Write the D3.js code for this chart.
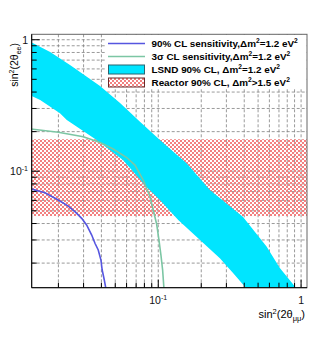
<!DOCTYPE html>
<html>
<head>
  <meta charset="utf-8">
  <script src="https://d3js.org/d3.v7.min.js"></script>
  <style>
    body { margin: 0; background: #fff; }
    text { font-family: "Liberation Sans", Arial, sans-serif; }
  </style>
</head>
<body>
<script>
// values: [sin2(2theta_mumu), sin2(2theta_ee)]
var lsndUpper = [[0.013, 0.952], [0.0175, 0.806], [0.0241, 0.642], [0.0391, 0.444], [0.054, 0.330],
  [0.0745, 0.238], [0.1027, 0.1727], [0.158, 0.1148], [0.230, 0.0719], [0.391, 0.0451],
  [0.573, 0.0267], [0.710, 0.01835], [0.930, 0.0128]];
var lsndLower = [[0.013, 0.373], [0.0149, 0.348], [0.0205, 0.2757], [0.0229, 0.245], [0.037, 0.1727],
  [0.0566, 0.1217], [0.0829, 0.0758], [0.1027, 0.0604], [0.138, 0.0425], [0.196, 0.030],
  [0.270, 0.02175], [0.335, 0.01673], [0.415, 0.0128]];
var sens90 = [[0.0128, 0.0735], [0.0161, 0.0686], [0.01996, 0.0604], [0.02345, 0.0543], [0.0261, 0.0492],
  [0.0291, 0.0438], [0.0315, 0.039], [0.0342, 0.0327], [0.03605, 0.0283], [0.038, 0.02516],
  [0.0397, 0.0211], [0.0405, 0.01772], [0.0419, 0.01487], [0.043, 0.0128]];
var sens3s = [[0.0128, 0.2095], [0.01996, 0.1976], [0.02986, 0.183], [0.0391, 0.1653], [0.0484, 0.1474],
  [0.0601, 0.1271], [0.0687, 0.1114], [0.0785, 0.0857], [0.0875, 0.064], [0.0922, 0.0507],
  [0.0974, 0.0397], [0.1011, 0.030], [0.1044, 0.02305], [0.1073, 0.01772], [0.1096, 0.0128]];
var reactorBand = [0.0456, 0.175];
var legendLabels = ["90% CL sensitivity,", "3\u03c3 CL sensitivity,", "LSND 90% CL, ", "Reactor 90% CL, "];
var legendDm = ["=1.2 eV", "=1.2 eV", "=1.2 eV", ">1.5 eV"];

var W = 315, H = 339;
var x = d3.scaleLog().domain([0.013, 1.1]).range([31.7, 307]);
var y = d3.scaleLog().domain([0.013, 1.1]).range([287.7, 34.3]);

var svg = d3.select("body").append("svg").attr("width", W).attr("height", H);
var defs = svg.append("defs");
defs.append("clipPath").attr("id", "clip").append("rect")
  .attr("x", 31.7).attr("y", 34.3).attr("width", 307 - 31.7).attr("height", 287.7 - 34.3);
var pat = defs.append("pattern").attr("id", "hatch").attr("patternUnits", "userSpaceOnUse")
  .attr("width", 4).attr("height", 4);
pat.append("rect").attr("x", 0).attr("y", 0).attr("width", 2).attr("height", 2).attr("fill", "#f38080");
pat.append("rect").attr("x", 2).attr("y", 2).attr("width", 2).attr("height", 2).attr("fill", "#f38080");

// grid at every log tick
var ticks = [];
[0.01, 0.1, 1].forEach(function(d) { for (var k = 1; k < 10; k++) ticks.push(d * k); });
var xt = ticks.filter(function(t) { return t >= 0.013 && t <= 1.1; });
var yt = xt;

var grid = svg.append("g").attr("stroke", "#808080").attr("stroke-dasharray", "3,2").attr("stroke-width", 0.8);
grid.selectAll(".gx").data(xt).enter().append("line")
  .attr("x1", function(d) { return x(d); }).attr("x2", function(d) { return x(d); })
  .attr("y1", 34.3).attr("y2", 287.7);
grid.selectAll(".gy").data(yt).enter().append("line")
  .attr("y1", function(d) { return y(d); }).attr("y2", function(d) { return y(d); })
  .attr("x1", 31.7).attr("x2", 307);

var plot = svg.append("g").attr("clip-path", "url(#clip)");

// reactor band
plot.append("rect")
  .attr("x", x(0.013)).attr("width", x(1.1) - x(0.013))
  .attr("y", y(reactorBand[1])).attr("height", y(reactorBand[0]) - y(reactorBand[1]))
  .attr("fill", "url(#hatch)");

// LSND band
var band = lsndUpper.concat(lsndLower.slice().reverse());
plot.append("path")
  .attr("d", d3.line().x(function(d) { return x(d[0]); }).y(function(d) { return y(d[1]); })(band) + "Z")
  .attr("fill", "#00e5ff");

var line = d3.line().x(function(d) { return x(d[0]); }).y(function(d) { return y(d[1]); });
plot.append("path").attr("d", line(sens3s)).attr("fill", "none").attr("stroke", "#7cc6a4").attr("stroke-width", 1.6);
plot.append("path").attr("d", line(sens90)).attr("fill", "none").attr("stroke", "#5656e0").attr("stroke-width", 1.6);

// frame + axes
svg.append("rect").attr("x", 31.7).attr("y", 34.3).attr("width", 307 - 31.7).attr("height", 287.7 - 34.3)
  .attr("fill", "none").attr("stroke", "#666");
svg.append("line").attr("x1", 31.7).attr("x2", 31.7).attr("y1", 34.3).attr("y2", 287.7).attr("stroke", "#000");
svg.append("line").attr("x1", 31.7).attr("x2", 307).attr("y1", 287.7).attr("y2", 287.7).attr("stroke", "#000");
function isMajor(t) { return Math.abs(Math.log10(t) - Math.round(Math.log10(t))) < 1e-6; }
svg.selectAll(".tx").data(xt).enter().append("line")
  .attr("x1", function(d) { return x(d); }).attr("x2", function(d) { return x(d); })
  .attr("y1", 287.7).attr("y2", function(d) { return 287.7 - (isMajor(d) ? 8 : 5); })
  .attr("stroke", "#000");
svg.selectAll(".ty").data(yt).enter().append("line")
  .attr("y1", function(d) { return y(d); }).attr("y2", function(d) { return y(d); })
  .attr("x1", 31.7).attr("x2", function(d) { return 31.7 + (isMajor(d) ? 8 : 5); })
  .attr("stroke", "#000");

// tick labels
function powLabel(g, t) {
  if (t === 1) { g.text("1"); return; }
  g.text("10");
  g.append("tspan").attr("dy", -4).attr("font-size", "7px").text("-1");
}
[0.1, 1].forEach(function(t) {
  var tx = svg.append("text").attr("x", x(t)).attr("y", 304).attr("font-size", "10.5px")
    .attr("text-anchor", "middle").attr("fill", "#111");
  powLabel(tx, t);
  var ty = svg.append("text").attr("x", 28).attr("y", y(t) + 4).attr("font-size", "10.5px")
    .attr("text-anchor", "end").attr("fill", "#111");
  powLabel(ty, t);
});

// axis titles
var xtit = svg.append("text").attr("x", 305).attr("y", 318).attr("font-size", "11px").attr("text-anchor", "end");
xtit.append("tspan").text("sin");
xtit.append("tspan").attr("dy", -4).attr("font-size", "7.5px").text("2");
xtit.append("tspan").attr("dy", 4).text("(2\u03b8");
xtit.append("tspan").attr("dy", 3).attr("font-size", "7.5px").text("\u03bc\u03bc");
xtit.append("tspan").attr("dy", -3).text(")");

var ytit = svg.append("text").attr("transform", "translate(18,43) rotate(-90)")
  .attr("font-size", "10.5px").attr("text-anchor", "end");
ytit.append("tspan").text("sin");
ytit.append("tspan").attr("dy", -4).attr("font-size", "7px").text("2");
ytit.append("tspan").attr("dy", 4).text("(2\u03b8");
ytit.append("tspan").attr("dy", 3).attr("font-size", "7px").text("ee");
ytit.append("tspan").attr("dy", -3).text(")");

// legend
var leg = svg.append("g");
leg.append("rect").attr("x", 105).attr("y", 35).attr("width", 201).attr("height", 54).attr("fill", "#fff");
var rowY = [43.5, 56.5, 69.5, 82.5];
leg.append("line").attr("x1", 108).attr("x2", 145).attr("y1", rowY[0]).attr("y2", rowY[0])
  .attr("stroke", "#5656e0").attr("stroke-width", 1.6);
leg.append("line").attr("x1", 108).attr("x2", 145).attr("y1", rowY[1]).attr("y2", rowY[1])
  .attr("stroke", "#7cc6a4").attr("stroke-width", 1.6);
leg.append("rect").attr("x", 108.5).attr("y", rowY[2] - 4.5).attr("width", 36).attr("height", 9)
  .attr("fill", "#00e5ff").attr("stroke", "#2b6570");
leg.append("rect").attr("x", 108.5).attr("y", rowY[3] - 4.5).attr("width", 36).attr("height", 9)
  .attr("fill", "url(#hatch)").attr("stroke", "#6a2a2a");
legendLabels.forEach(function(lab, i) {
  var t = leg.append("text").attr("x", 151.5).attr("y", rowY[i] + 3.5).attr("font-size", "9.9px")
    .attr("font-weight", "bold").attr("fill", "#000");
  t.append("tspan").text(lab + "\u0394m");
  t.append("tspan").attr("dy", -4).attr("font-size", "6.7px").text("2");
  t.append("tspan").attr("dy", 4).text(legendDm[i]);
  t.append("tspan").attr("dy", -4).attr("font-size", "6.7px").text("2");
});
</script>
</body>
</html>
